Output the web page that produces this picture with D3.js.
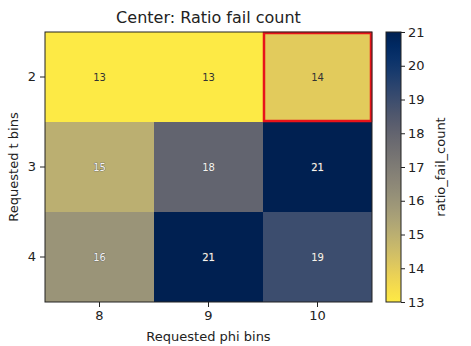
<!DOCTYPE html>
<html><head><meta charset="utf-8">
<script src="https://cdn.jsdelivr.net/npm/d3@7"></script>
<style>body{margin:0;background:#fff}text{font-family:"DejaVu Sans",sans-serif}</style>
</head><body><svg id="c" width="471" height="346"></svg>
<script>
const phiBins = [8, 9, 10];
const tBins = [2, 3, 4];
const values = [
  [13, 13, 14],
  [15, 18, 21],
  [16, 21, 19]
];
const cbTicks = [13, 14, 15, 16, 17, 18, 19, 20, 21];
const highlight = {t: 2, phi: 10};

const svg = d3.select("#c");
const L = 45, R = 372, T = 32, B = 302;
const x = d3.scaleBand().domain(phiBins).range([L, R]);
const y = d3.scaleBand().domain(tBins).range([T, B]);
const color = v => d3.interpolateCividis(1 - (v - 13) / 8);

const cells = [];
tBins.forEach((t, i) => phiBins.forEach((p, j) => cells.push({t, p, v: values[i][j]})));

svg.selectAll("rect.cell").data(cells).join("rect")
  .attr("x", d => x(d.p)).attr("y", d => y(d.t))
  .attr("width", x.bandwidth()).attr("height", y.bandwidth())
  .attr("fill", d => color(d.v));

svg.selectAll("text.ann").data(cells).join("text")
  .attr("x", d => x(d.p) + x.bandwidth() / 2)
  .attr("y", d => y(d.t) + y.bandwidth() / 2)
  .attr("dy", "0.35em").attr("text-anchor", "middle")
  .attr("font-size", 10)
  .attr("fill", d => d.v < 15 ? "#333" : "#f4f4f4")
  .attr("stroke", d => d.v < 15 ? "none" : "#555")
  .attr("stroke-width", 0.7).attr("paint-order", "stroke")
  .text(d => d.v);

svg.append("rect")
  .attr("x", x(highlight.phi) + 1).attr("y", y(highlight.t) + 1)
  .attr("width", x.bandwidth() - 2).attr("height", y.bandwidth() - 2)
  .attr("fill", "none").attr("stroke", "#e8141a").attr("stroke-width", 2.5);

svg.append("rect").attr("x", L).attr("y", T).attr("width", R - L).attr("height", B - T)
  .attr("fill", "none").attr("stroke", "#222").attr("stroke-width", 1);

const xa = svg.append("g").attr("transform", `translate(0,${B})`)
  .call(d3.axisBottom(x).tickSize(5).tickPadding(4));
const ya = svg.append("g").attr("transform", `translate(${L},0)`)
  .call(d3.axisLeft(y).tickSize(5).tickPadding(4));
[xa, ya].forEach(a => {
  a.select(".domain").remove();
  a.selectAll("text").attr("font-size", 13).attr("fill", "#222").style("font-family", "DejaVu Sans");
  a.selectAll("line").attr("stroke", "#222");
});

svg.append("text").attr("x", (L + R) / 2).attr("y", 23).attr("text-anchor", "middle")
  .attr("font-size", 16).attr("fill", "#222").text("Center: Ratio fail count");
svg.append("text").attr("x", (L + R) / 2).attr("y", 341).attr("text-anchor", "middle")
  .attr("font-size", 13).attr("fill", "#222").text("Requested phi bins");
svg.append("text").attr("transform", `translate(18,${(T + B) / 2}) rotate(-90)`)
  .attr("text-anchor", "middle").attr("font-size", 13).attr("fill", "#222").text("Requested t bins");

// colorbar
const cbX = 386, cbW = 15;
const cy = d3.scaleLinear().domain([13, 21]).range([B, T]);
const defs = svg.append("defs");
const grad = defs.append("linearGradient").attr("id", "g").attr("x1", 0).attr("x2", 0).attr("y1", 1).attr("y2", 0);
d3.range(0, 1.0001, 0.05).forEach(s => grad.append("stop").attr("offset", s).attr("stop-color", color(13 + 8 * s)));
svg.append("rect").attr("x", cbX).attr("y", T).attr("width", cbW).attr("height", B - T)
  .attr("fill", "url(#g)").attr("stroke", "#222").attr("stroke-width", 1);
const ca = svg.append("g").attr("transform", `translate(${cbX + cbW},0)`)
  .call(d3.axisRight(cy).tickValues(cbTicks).tickSize(4).tickPadding(3).tickFormat(d3.format("d")));
ca.select(".domain").remove();
ca.selectAll("text").attr("font-size", 13).attr("fill", "#222").style("font-family", "DejaVu Sans");
ca.selectAll("line").attr("stroke", "#222");
svg.append("text").attr("transform", `translate(445,${(T + B) / 2}) rotate(-90)`)
  .attr("text-anchor", "middle").attr("font-size", 13).attr("fill", "#222").text("ratio_fail_count");
</script></body></html>
